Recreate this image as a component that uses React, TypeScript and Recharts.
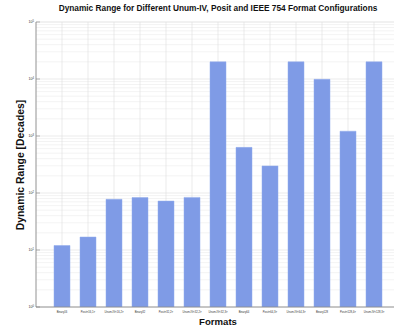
import { BarChart, Bar, XAxis, YAxis, CartesianGrid } from "recharts";

const formats = [
  "Binary16",
  "Posit<16,1>",
  "Unum-IV<16,2>",
  "Binary32",
  "Posit<32,2>",
  "Unum-IV<32,2>",
  "Unum-IV<32,3>",
  "Binary64",
  "Posit<64,3>",
  "Unum-IV<64,3>",
  "Binary128",
  "Posit<128,4>",
  "Unum-IV<128,3>",
];
const positions = [1, 2, 3, 4, 5, 6, 7, 8, 9, 10, 11, 12, 13];
// dynamic range in decades
const decades = [12.0, 16.9, 77.6, 83.2, 72.2, 83.8, 20000, 631.6, 298.6, 20000, 9864, 1213.7, 20000];
const yTicks = [1, 10, 100, 1000, 10000, 100000];
const minorSteps = [2, 3, 4, 5, 6, 7, 8, 9];

const data = formats.map((name, i) => ({ name, pos: positions[i], value: decades[i] }));
const minorValues = yTicks.slice(0, -1).flatMap((d) => minorSteps.map((m) => d * m));

const FONT = '"Liberation Sans", Arial, sans-serif';
const AXIS = "#858585";
const BAR = "#7f9be6";

function YTick({ x, y, payload }: any) {
  const exp = Math.round(Math.log10(payload.value));
  return (
    <g>
      <line x1={x + 2} x2={x + 6} y1={y} y2={y} stroke={AXIS} strokeWidth={0.6} />
      <text x={x} y={y + 1.2} textAnchor="end" fontSize={3.6} fill="#333" fontFamily={FONT}>
        10
        <tspan dy={-1.6} fontSize={2.6}>
          {exp}
        </tspan>
      </text>
    </g>
  );
}

function XTick({ x, y, payload }: any) {
  return (
    <text x={x} y={y + 6} textAnchor="middle" fontSize={2.7} fill="#333" fontFamily={FONT}>
      {formats[payload.value - 1]}
    </text>
  );
}

function TopTick({ x, y }: any) {
  return <line x1={x} x2={x} y1={y} y2={y + 3} stroke={AXIS} strokeWidth={0.6} />;
}

export default function App() {
  return (
    <div style={{ position: "absolute", left: 0, top: 0, width: 394, height: 330, overflow: "hidden", background: "#fff", fontFamily: FONT }}>
      <div style={{ position: "absolute", left: 36, width: 364, top: 2.5, textAlign: "center", fontSize: 8.3, fontWeight: "bold", color: "#111", whiteSpace: "nowrap" }}>
        Dynamic Range for Different Unum-IV, Posit and IEEE 754 Format Configurations
      </div>
      <div style={{ position: "absolute", left: 20, top: 165, transform: "translate(-50%, -50%) rotate(-90deg)", fontSize: 10.4, fontWeight: "bold", color: "#111", whiteSpace: "nowrap" }}>
        Dynamic Range [Decades]
      </div>
      <div style={{ position: "absolute", left: 218, top: 321, transform: "translate(-50%, -50%)", fontSize: 9.6, fontWeight: "bold", color: "#111", whiteSpace: "nowrap" }}>
        Formats
      </div>
      <BarChart width={400} height={330} data={data} margin={{ top: 22, right: 0, bottom: 0, left: 0 }}>
        <CartesianGrid yAxisId="minor" vertical={false} stroke="#ebebeb" strokeWidth={0.6} />
        <CartesianGrid stroke="#dedede" strokeWidth={0.6} />
        <XAxis
          dataKey="pos"
          type="number"
          domain={[0, 14]}
          ticks={positions}
          height={23}
          tickSize={0}
          tickMargin={0}
          tick={<XTick />}
          axisLine={{ stroke: AXIS, strokeWidth: 0.8 }}
          interval={0}
        />
        <XAxis
          xAxisId="top"
          dataKey="pos"
          type="number"
          orientation="top"
          domain={[0, 14]}
          ticks={positions}
          height={0}
          tickSize={0}
          tickMargin={0}
          tick={<TopTick />}
          axisLine={{ stroke: AXIS, strokeWidth: 0.8 }}
          interval={0}
        />
        <YAxis
          yAxisId="minor"
          hide
          scale="log"
          domain={[1, 100000]}
          ticks={minorValues}
          interval={0}
          allowDataOverflow
        />
        <YAxis
          scale="log"
          domain={[1, 100000]}
          ticks={yTicks}
          width={36}
          tickSize={0}
          tickMargin={2}
          tick={<YTick />}
          axisLine={{ stroke: AXIS, strokeWidth: 0.8 }}
          interval={0}
          allowDataOverflow
        />
        <Bar dataKey="value" fill={BAR} stroke="#93acec" strokeWidth={0.5} barSize={16} isAnimationActive={false} />
      </BarChart>
    </div>
  );
}
